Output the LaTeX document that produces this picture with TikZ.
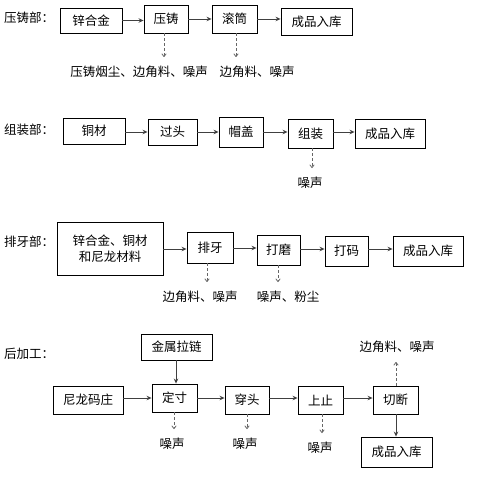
\documentclass[tikz,border=0pt]{standalone}
\usepackage{fontspec}
\setmainfont{Noto Sans CJK SC}
\usetikzlibrary{arrows.meta}
\tikzset{
  box/.style={draw,line width=0.9pt,inner sep=0pt,align=center,font=\fontsize{12.5}{16}\selectfont},
  lbl/.style={anchor=west,inner sep=0pt,font=\fontsize{12.5}{14}\selectfont},
  note/.style={inner sep=0pt,font=\fontsize{12.5}{14}\selectfont},
  flow/.style={draw=black!75,line width=0.9pt,-{Stealth[length=5pt,width=4.5pt]}},
  waste/.style={draw=black!60,line width=0.8pt,dash pattern=on 3pt off 2pt,-{To[length=3.5pt,width=5pt]}},
}
\begin{document}
\begin{tikzpicture}[x=1pt,y=-1pt]
\useasboundingbox (0,0) rectangle (492,494);
\fill[white] (0,0) rectangle (492,494);
% 压铸部
\node[lbl] (lbl1) at (4,18){压铸部：};
\node[box,minimum width=62,minimum height=25] (zhx) at (91,20.5){锌合金};
\node[box,minimum width=44,minimum height=28] (yz) at (166,19){压铸};
\node[box,minimum width=45,minimum height=28] (gt) at (234.5,19){滚筒};
\node[box,minimum width=71,minimum height=27] (cp1) at (316.5,21.5){成品入库};
\node[note] (n1a) at (139,72){压铸烟尘、边角料、噪声};
\node[note] (n1b) at (257,72){边角料、噪声};
\draw[flow] (zhx.east) -- (zhx.east -| yz.west);
\draw[flow] (yz.east) -- (yz.east -| gt.west);
\draw[flow] (gt.east) -- (gt.east -| cp1.west);
\draw[waste,shorten >=9pt] (yz.south -| 164,0) -- (164,0 |- n1a.north);
\draw[waste,shorten >=9pt] (gt.south -| 236,0) -- (236,0 |- n1b.north);
% 组装部
\node[lbl] (lbl2) at (4,130){组装部：};
\node[box,minimum width=62,minimum height=26] (tc) at (94,131){铜材};
\node[box,minimum width=49,minimum height=26] (gtou) at (172.5,132){过头};
\node[box,minimum width=44,minimum height=30] (mg) at (241,132){帽盖};
\node[box,minimum width=45,minimum height=29] (zz) at (310.5,133.5){组装};
\node[box,minimum width=70,minimum height=29] (cp2) at (390,133.5){成品入库};
\node[note] (n2) at (310,183){噪声};
\draw[flow] (tc.east |- 0,132) -- (gtou.west |- 0,132);
\draw[flow] (gtou.east |- 0,132) -- (mg.west |- 0,132);
\draw[flow] (mg.east |- 0,132) -- (zz.west |- 0,132);
\draw[flow] (zz.east |- 0,132) -- (cp2.west |- 0,132);
\draw[waste,shorten >=9pt] (zz.south -| 312,0) -- (312,0 |- n2.north);
% 排牙部
\node[lbl] (lbl3) at (4,242){排牙部：};
\node[box,minimum width=106,minimum height=53] (yl) at (110,248.5){锌合金、铜材\\和尼龙材料};
\node[box,minimum width=46,minimum height=31] (py) at (210,247.5){排牙};
\node[box,minimum width=43,minimum height=30] (dm) at (278.5,250){打磨};
\node[box,minimum width=43,minimum height=30] (dma) at (346.5,251){打码};
\node[box,minimum width=70,minimum height=30] (cp3) at (428,251){成品入库};
\node[note] (n3a) at (200,297){边角料、噪声};
\node[note] (n3b) at (288,297){噪声、粉尘};
\draw[flow] (yl.east |- 0,249) -- (py.west |- 0,249);
\draw[flow] (py.east |- 0,248) -- (dm.west |- 0,248);
\draw[flow] (dm.east |- 0,249) -- (dma.west |- 0,249);
\draw[flow] (dma.east |- 0,249) -- (cp3.west |- 0,249);
\draw[waste,shorten >=9pt] (py.south -| 207,0) -- (207,0 |- n3a.north);
\draw[waste,shorten >=9pt] (dm.south -| 278,0) -- (278,0 |- n3b.north);
% 后加工
\node[lbl] (lbl4) at (4,354){后加工：};
\node[box,minimum width=71,minimum height=26] (jl) at (176.5,347){金属拉链};
\node[box,minimum width=70,minimum height=28] (nl) at (88,400){尼龙码庄};
\node[box,minimum width=45,minimum height=28] (dc) at (174.5,398){定寸};
\node[box,minimum width=44,minimum height=28] (ct) at (247,400){穿头};
\node[box,minimum width=45,minimum height=28] (sz) at (320.5,400){上止};
\node[box,minimum width=45,minimum height=28] (qd) at (395.5,400){切断};
\node[box,minimum width=71,minimum height=30] (cp4) at (396.5,452){成品入库};
\node[note] (n4a) at (172,444){噪声};
\node[note] (n4b) at (245,444){噪声};
\node[note] (n4c) at (320,448){噪声};
\node[note] (n4d) at (397,347){边角料、噪声};
\draw[flow] (jl.south -| 176,0) -- (dc.north -| 176,0);
\draw[flow] (nl.east |- 0,398) -- (dc.west |- 0,398);
\draw[flow] (dc.east |- 0,398) -- (ct.west |- 0,398);
\draw[flow] (ct.east |- 0,398) -- (sz.west |- 0,398);
\draw[flow] (sz.east |- 0,398) -- (qd.west |- 0,398);
\draw[flow] (qd.south -| 396,0) -- (cp4.north -| 396,0);
\draw[waste,shorten >=9pt] (dc.south -| 174,0) -- (174,0 |- n4a.north);
\draw[waste,shorten >=9pt] (ct.south -| 247,0) -- (247,0 |- n4b.north);
\draw[waste,shorten >=9pt] (sz.south -| 322,0) -- (322,0 |- n4c.north);
\draw[waste,shorten >=9pt] (qd.north -| 396,0) -- (396,0 |- n4d.south);
\end{tikzpicture}
\end{document}
